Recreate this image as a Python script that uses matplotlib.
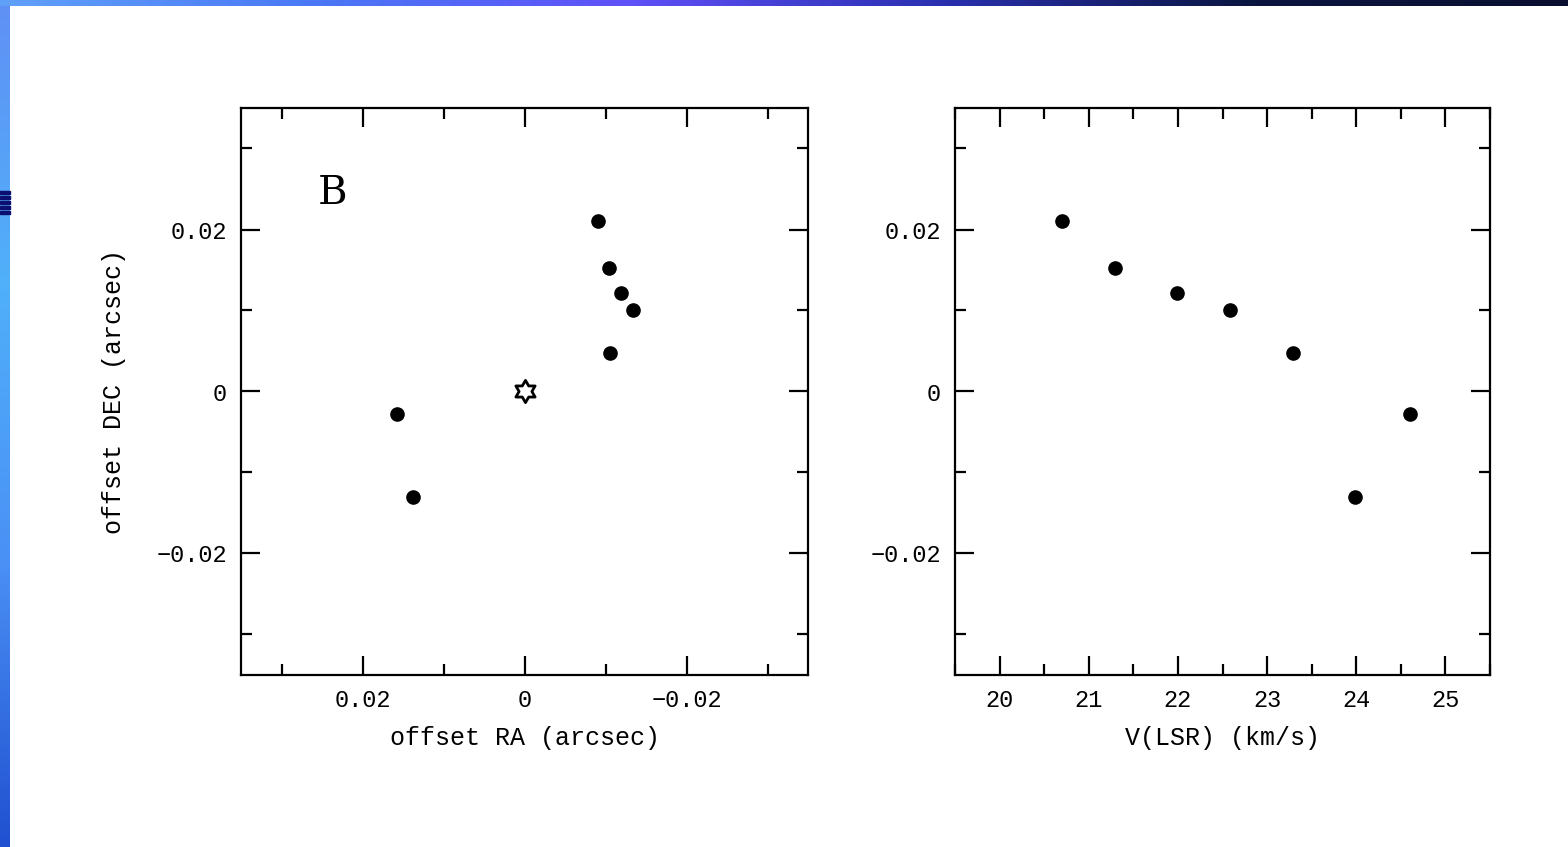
import numpy as np
import matplotlib
matplotlib.use('Agg')
import matplotlib.pyplot as plt
from matplotlib.path import Path
from matplotlib.ticker import MultipleLocator, FuncFormatter
from matplotlib.colors import LinearSegmentedColormap

# maser spots: offsets (arcsec) and LSR velocities (km/s)
ra_off = [-0.0091, -0.0104, -0.0119, -0.0134, -0.0106, 0.0158, 0.0138]
dec_off = [0.0211, 0.0152, 0.0121, 0.0101, 0.0047, -0.0028, -0.0130]
v_lsr = [20.70, 21.29, 21.99, 22.58, 23.29, 24.60, 23.99]
star_pos = [0.0, 0.0]

plt.rcParams['font.family'] = ['Liberation Mono', 'DejaVu Sans Mono']
plt.rcParams['axes.linewidth'] = 1.6

fig = plt.figure(figsize=(15.68, 8.47), dpi=100)

# blue slide border, left and top
bg = fig.add_axes([0, 0, 1, 1], zorder=-10)
bg.set_xlim(0, 1568)
bg.set_ylim(847, 0)
bg.axis('off')
left_cmap = LinearSegmentedColormap.from_list('l', ['#6090f5', '#50b0fa', '#4a90f5', '#2050d0'])
top_cmap = LinearSegmentedColormap.from_list('t', ['#60a0f8', '#4a78f5', '#6050f8', '#2a30b0', '#0a1540', '#0a0f30'])
bg.imshow(np.linspace(0, 1, 256)[:, None], cmap=left_cmap, aspect='auto', extent=[0, 10, 847, 0])
bg.imshow(np.linspace(0, 1, 256)[None, :], cmap=top_cmap, aspect='auto', extent=[0, 1568, 6, 0])
for y0 in range(191, 216, 5):
    bg.add_patch(plt.Rectangle((0, y0), 10, 3.5, color='#0a0f70'))

# hexagram outline marker
ang = np.deg2rad(np.arange(12) * 30 + 90)
rad = np.where(np.arange(12) % 2 == 0, 1.0, 0.577)
verts = np.column_stack([rad * np.cos(ang), rad * np.sin(ang)])
verts = np.vstack([verts, verts[:1]])
hexagram = Path(verts, closed=True)


def fmt(v, pos):
    if abs(v) < 1e-9:
        return '0'
    s = '%g' % v
    return s.replace('-', '\u2212')


def style(ax):
    ax.tick_params(which='both', direction='in', top=True, right=True, width=1.6)
    ax.tick_params(which='major', length=14, labelsize=17, pad=10)
    ax.tick_params(which='minor', length=8)


ax1 = fig.add_axes([241 / 1568, 1 - 675 / 847, 567 / 1568, 567 / 847])
ax1.plot(ra_off, dec_off, 'o', color='black', markersize=9.5)
ax1.plot(star_pos[0], star_pos[1], marker=hexagram, markersize=16, color='black',
         markerfacecolor='white', markeredgewidth=2, linestyle='none')
ax1.set_xlim(0.035, -0.035)
ax1.set_ylim(-0.035, 0.035)
ax1.xaxis.set_major_locator(MultipleLocator(0.02))
ax1.xaxis.set_minor_locator(MultipleLocator(0.01))
ax1.yaxis.set_major_locator(MultipleLocator(0.02))
ax1.yaxis.set_minor_locator(MultipleLocator(0.01))
ax1.xaxis.set_major_formatter(FuncFormatter(fmt))
ax1.yaxis.set_major_formatter(FuncFormatter(fmt))
style(ax1)
ax1.set_xlabel('offset RA (arcsec)', fontsize=18, labelpad=10)
ax1.set_ylabel('offset DEC (arcsec)', fontsize=18, labelpad=22)
ax1.text(0.162, 0.85, 'B', transform=ax1.transAxes, fontsize=29,
         family='DejaVu Serif', ha='center', va='center')

ax2 = fig.add_axes([955 / 1568, 1 - 675 / 847, 535 / 1568, 567 / 847])
ax2.plot(v_lsr, dec_off, 'o', color='black', markersize=9.5)
ax2.set_xlim(19.5, 25.5)
ax2.set_ylim(-0.035, 0.035)
ax2.xaxis.set_major_locator(MultipleLocator(1))
ax2.xaxis.set_minor_locator(MultipleLocator(0.5))
ax2.yaxis.set_major_locator(MultipleLocator(0.02))
ax2.yaxis.set_minor_locator(MultipleLocator(0.01))
ax2.xaxis.set_major_formatter(FuncFormatter(fmt))
ax2.yaxis.set_major_formatter(FuncFormatter(fmt))
style(ax2)
ax2.set_xlabel('V(LSR) (km/s)', fontsize=18, labelpad=10)

fig.savefig('out.png', dpi=100)
